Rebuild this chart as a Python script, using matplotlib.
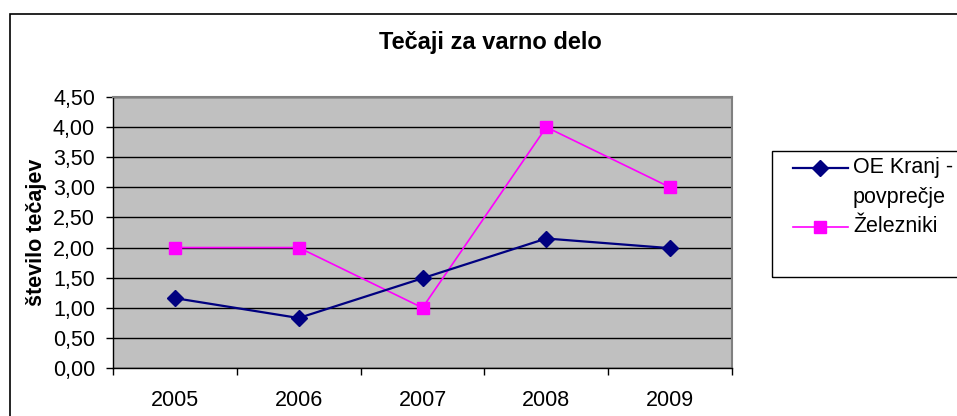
import matplotlib.pyplot as plt
from matplotlib.lines import Line2D
from matplotlib.patches import Rectangle

plt.rcParams["font.family"] = ["Liberation Sans", "DejaVu Sans"]

years = ["2005", "2006", "2007", "2008", "2009"]
oe_kranj = [1.16, 0.83, 1.49, 2.15, 1.99]
zelezniki = [2.0, 2.0, 1.0, 4.0, 3.0]
y_ticks = [0.0, 0.5, 1.0, 1.5, 2.0, 2.5, 3.0, 3.5, 4.0, 4.5]

W, H = 957, 416
fig = plt.figure(figsize=(W / 100, H / 100), dpi=100)


def fx(px):
    return px / W


def fy(py):
    return 1 - py / H


# outer chart frame (bottom and right run off the image)
fig.patches.append(Rectangle((fx(10), -0.1), 1.0, 1.1 - 14 / H, transform=fig.transFigure,
                             fill=False, edgecolor="black", lw=1.2))

ax = fig.add_axes([fx(113), fy(368), (732 - 113) / W, (368 - 97) / H])
ax.set_facecolor("#c0c0c0")

x = list(range(len(years)))
series = [
    ("OE Kranj -\npovprečje", oe_kranj, dict(color="#000080", lw=1.6, marker="D", ms=8, zorder=4)),
    ("Železniki", zelezniki, dict(color="#ff00ff", lw=1.2, marker="s", ms=8, zorder=3)),
]
for label, vals, style in series:
    ax.plot(x, vals, **style)

ax.set_xlim(-0.5, len(years) - 0.5)
ax.set_ylim(0, 4.5)
ax.set_yticks(y_ticks)
ax.set_yticklabels([f"{v:.2f}".replace(".", ",") for v in y_ticks], fontsize=15.5)
ax.set_xticks(x)
ax.set_xticklabels(years, fontsize=15.5)
ax.set_xticks([i + 0.5 for i in range(-1, len(years))], minor=True)
ax.tick_params(axis="x", which="major", length=0, pad=16)
ax.tick_params(axis="x", which="minor", length=5, width=1, color="black")
ax.tick_params(axis="y", length=5, width=1, pad=8)
ax.grid(axis="y", color="black", lw=1)
ax.set_axisbelow(True)

for side in ["top", "right"]:
    ax.spines[side].set_color("#808080")
    ax.spines[side].set_linewidth(1.5)
for side in ["left", "bottom"]:
    ax.spines[side].set_color("black")
    ax.spines[side].set_linewidth(1)

ax.set_ylabel("število tečajev", fontsize=15.5, fontweight="bold", labelpad=4)
fig.text(fx(490), fy(43), "Tečaji za varno delo", ha="center", va="center",
         fontsize=17, fontweight="bold")

# legend drawn by hand: the marker sits on the first line of a wrapped label,
# and the frame runs past the right edge like in the original
fig.patches.append(Rectangle((fx(772), fy(277)), 0.3, 126 / H, transform=fig.transFigure,
                             fill=False, edgecolor="black", lw=1))
row_y = 168
for label, vals, style in series:
    fig.add_artist(Line2D([fx(793), fx(848)], [fy(row_y)] * 2, transform=fig.transFigure,
                          color=style["color"], lw=style["lw"]))
    fig.add_artist(Line2D([fx(820)], [fy(row_y)], transform=fig.transFigure,
                          color=style["color"], marker=style["marker"], ms=style["ms"]))
    for i, part in enumerate(label.split("\n")):
        fig.text(fx(853), fy(row_y + 29.5 * i), part, ha="left", va="center", fontsize=15.5)
    row_y += 29.5 * (label.count("\n") + 1)

fig.savefig("out.png", dpi=100)
